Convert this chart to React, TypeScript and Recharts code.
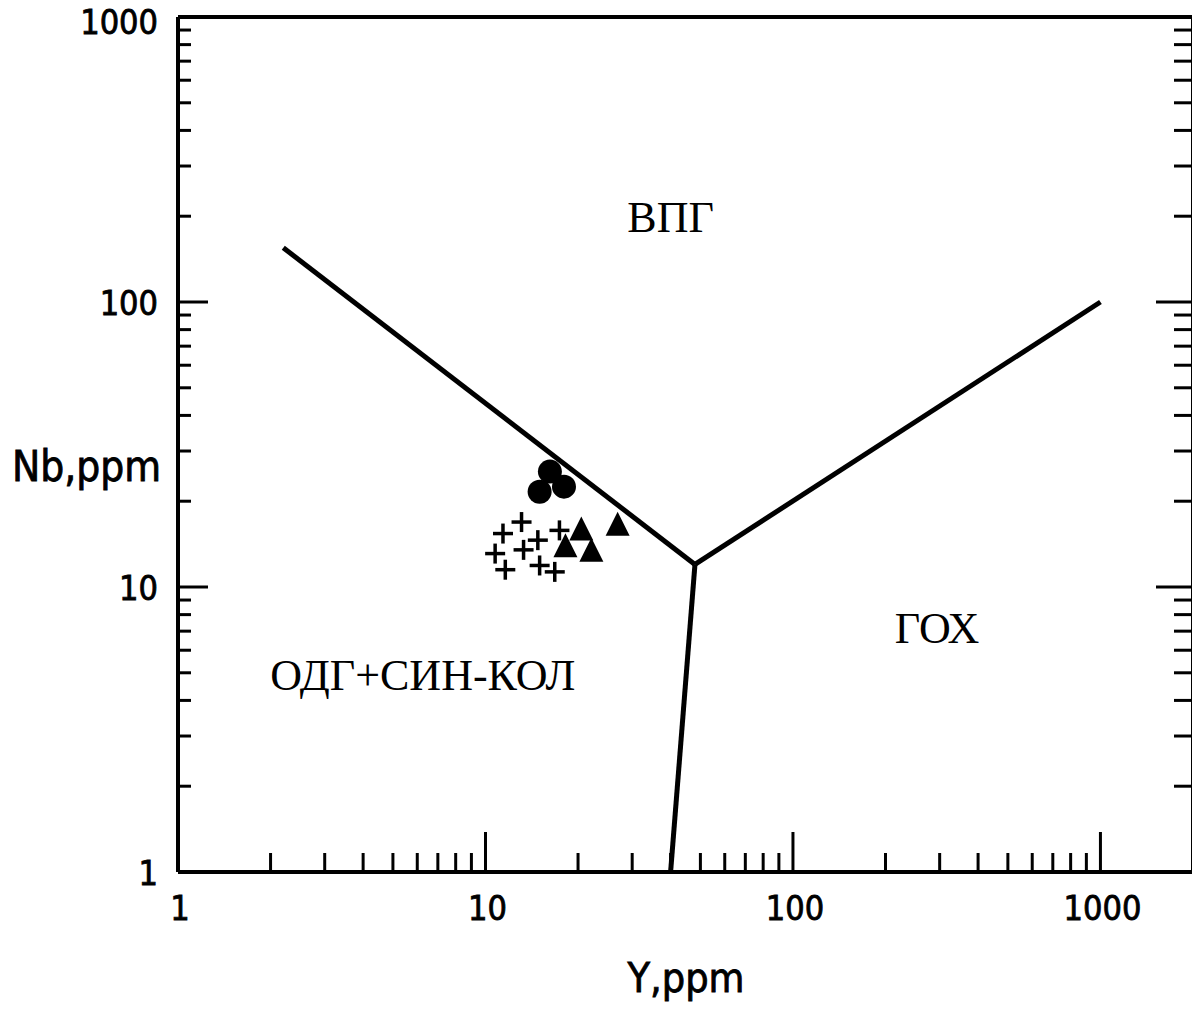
import React from 'react';
import { ScatterChart, Scatter, XAxis, YAxis } from 'recharts';

// log axis ticks (minor + major)
const yTickValues = [1, 2, 3, 4, 5, 6, 7, 8, 9, 10, 20, 30, 40, 50, 60, 70, 80, 90, 100, 200, 300, 400, 500, 600, 700, 800, 900, 1000];
const nbTickValues = [1, 2, 3, 4, 5, 6, 7, 8, 9, 10, 20, 30, 40, 50, 60, 70, 80, 90, 100, 200, 300, 400, 500, 600, 700, 800, 900, 1000];
const majorTicks = [1, 10, 100, 1000];

// samples (Y ppm, Nb ppm)
const crossSamples = [
  { y: 13.1, nb: 16.9 },
  { y: 11.4, nb: 15.4 },
  { y: 14.8, nb: 14.6 },
  { y: 17.4, nb: 15.8 },
  { y: 13.3, nb: 13.5 },
  { y: 10.75, nb: 13.1 },
  { y: 15.0, nb: 11.9 },
  { y: 16.8, nb: 11.3 },
  { y: 11.6, nb: 11.5 },
];
const triangleSamples = [
  { y: 20.5, nb: 15.8 },
  { y: 18.2, nb: 13.8 },
  { y: 22.1, nb: 13.3 },
  { y: 26.9, nb: 16.4 },
];
const circleSamples = [
  { y: 16.2, nb: 25.4 },
  { y: 15.0, nb: 21.6 },
  { y: 18.0, nb: 22.5 },
];

// field boundaries
const boundaryWpg = [{ y: 2.2, nb: 155 }, { y: 48, nb: 12 }];
const boundarySyn = [{ y: 48, nb: 12 }, { y: 40, nb: 1 }];
const boundaryOrg = [{ y: 48, nb: 12 }, { y: 1000, nb: 100 }];

const fieldLabels = [
  { y: 40, nb: 176, text: 'ВПГ' },
  { y: 294, nb: 6.36, text: 'ГОХ' },
  { y: 6.25, nb: 4.35, text: 'ОДГ+СИН-КОЛ' },
];

const tickFont = '"DejaVu Sans Condensed", "DejaVu Sans", sans-serif';
const isMajor = (v: number) => majorTicks.includes(v);

const BottomTick = (props: any) => {
  const { x, y, payload } = props;
  const major = isMajor(payload.value);
  return (
    <g>
      <line x1={x} y1={y} x2={x} y2={y - (major ? 40 : 19)} stroke="#000" strokeWidth={3} />
      {major && (
        <text x={x + 2} y={y + 48} textAnchor="middle" fontSize={34} fontFamily={tickFont} fill="#000" stroke="#000" strokeWidth={0.8}>
          {payload.value}
        </text>
      )}
    </g>
  );
};

const TopTick = (props: any) => {
  const { x, y, payload } = props;
  const major = isMajor(payload.value);
  return <line x1={x} y1={y} x2={x} y2={y + (major ? 40 : 17)} stroke="#000" strokeWidth={3} />;
};

const LeftTick = (props: any) => {
  const { x, y, payload } = props;
  const major = isMajor(payload.value);
  return (
    <g>
      <line x1={x} y1={y} x2={x + (major ? 30 : 13)} y2={y} stroke="#000" strokeWidth={3} />
      {major && (
        <text x={x - 20} y={Math.max(y + 13, 34)} textAnchor="end" fontSize={34} fontFamily={tickFont} fill="#000" stroke="#000" strokeWidth={0.8}>
          {payload.value}
        </text>
      )}
    </g>
  );
};

const RightTick = (props: any) => {
  const { x, y, payload } = props;
  const major = isMajor(payload.value);
  return <line x1={x} y1={y} x2={x - (major ? 37 : 19)} y2={y} stroke="#000" strokeWidth={3} />;
};

const noShape = () => <g />;

const CrossShape = (props: any) => {
  const { cx, cy } = props;
  return (
    <g stroke="#000" strokeWidth={3.5}>
      <line x1={cx - 10} y1={cy} x2={cx + 10} y2={cy} />
      <line x1={cx} y1={cy - 10} x2={cx} y2={cy + 10} />
    </g>
  );
};

const TriangleShape = (props: any) => {
  const { cx, cy } = props;
  return <polygon points={`${cx},${cy - 14} ${cx - 12},${cy + 10} ${cx + 12},${cy + 10}`} fill="#000" />;
};

const CircleShape = (props: any) => {
  const { cx, cy } = props;
  return <circle cx={cx} cy={cy} r={12} fill="#000" />;
};

const FieldLabel = (props: any) => {
  const { cx, cy, payload } = props;
  return (
    <text x={cx} y={cy} textAnchor="middle" fontSize={44} fontFamily='"Liberation Serif", "Times New Roman", serif' fill="#000">
      {payload.text}
    </text>
  );
};

const axisLine = { stroke: '#000', strokeWidth: 4 };
const boundaryLine = { stroke: '#000', strokeWidth: 5 };
const titleStyle: React.CSSProperties = {
  position: 'absolute',
  lineHeight: 1,
  fontFamily: tickFont,
  whiteSpace: 'nowrap',
  WebkitTextStroke: '0.8px #000',
};

export default function App() {
  return (
    <div style={{ position: 'relative', width: 1200, height: 1005, marginTop: -8, marginLeft: -8 }}>
      <ScatterChart width={1200} height={1005} margin={{ top: 0, right: 0, bottom: 0, left: 0 }}>
        <XAxis
          dataKey="y"
          type="number"
          scale="log"
          domain={[1, 2000]}
          allowDataOverflow
          ticks={yTickValues}
          interval={0}
          tickSize={0}
          tickMargin={0}
          tickLine={false}
          axisLine={axisLine}
          tick={<BottomTick />}
          height={133}
        />
        <XAxis
          xAxisId="top"
          orientation="top"
          type="number"
          scale="log"
          domain={[1, 2000]}
          allowDataOverflow
          ticks={yTickValues}
          interval={0}
          tickSize={0}
          tickMargin={0}
          tickLine={false}
          axisLine={axisLine}
          tick={<TopTick />}
          height={17}
        />
        <YAxis
          dataKey="nb"
          type="number"
          scale="log"
          domain={[1, 1000]}
          allowDataOverflow
          ticks={nbTickValues}
          interval={0}
          tickSize={0}
          tickMargin={0}
          tickLine={false}
          axisLine={axisLine}
          tick={<LeftTick />}
          width={178}
        />
        <YAxis
          yAxisId="right"
          orientation="right"
          type="number"
          scale="log"
          domain={[1, 1000]}
          allowDataOverflow
          ticks={nbTickValues}
          interval={0}
          tickSize={0}
          tickMargin={0}
          tickLine={false}
          axisLine={axisLine}
          tick={<RightTick />}
          width={7}
        />
        <Scatter data={boundaryWpg} fill="#000" line={boundaryLine} shape={noShape} isAnimationActive={false} />
        <Scatter data={boundarySyn} fill="#000" line={boundaryLine} shape={noShape} isAnimationActive={false} />
        <Scatter data={boundaryOrg} fill="#000" line={boundaryLine} shape={noShape} isAnimationActive={false} />
        <Scatter data={crossSamples} shape={<CrossShape />} isAnimationActive={false} />
        <Scatter data={triangleSamples} shape={<TriangleShape />} isAnimationActive={false} />
        <Scatter data={circleSamples} shape={<CircleShape />} isAnimationActive={false} />
        <Scatter data={fieldLabels} shape={<FieldLabel />} isAnimationActive={false} />
      </ScatterChart>
      <div style={{ ...titleStyle, left: 12, top: 446, fontSize: 42 }}>Nb,ppm</div>
      <div style={{ ...titleStyle, left: 586, top: 958, width: 200, textAlign: 'center', fontSize: 41 }}>Y,ppm</div>
    </div>
  );
}
